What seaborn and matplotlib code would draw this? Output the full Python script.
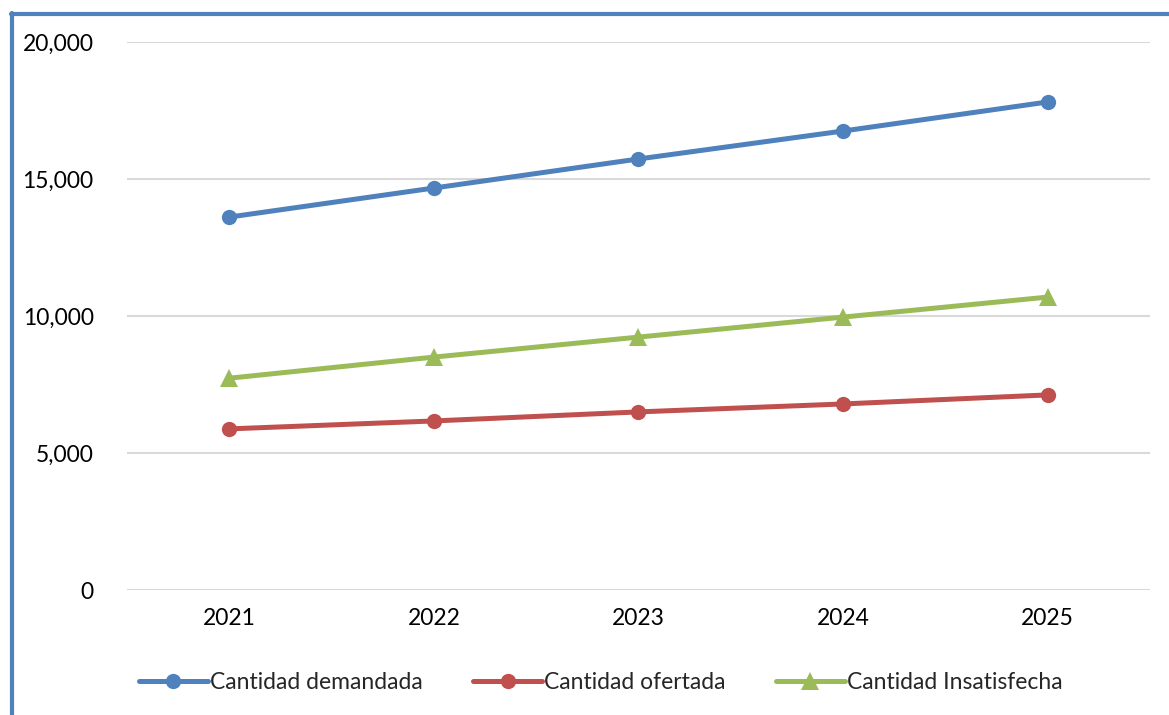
from matplotlib import pyplot as plt
from matplotlib.lines import Line2D
from matplotlib.ticker import FuncFormatter
import pandas as pd
import seaborn as sns

years = ['2021', '2022', '2023', '2024', '2025']
demandada = [13610, 14670, 15730, 16750, 17810]
ofertada = [5880, 6170, 6500, 6790, 7120]
insatisfecha = [7730, 8500, 9230, 9960, 10690]

series_names = ['Cantidad demandada', 'Cantidad ofertada', 'Cantidad Insatisfecha']
colors = ['#4F81BD', '#C0504D', '#9BBB59']
markers = ['o', 'o', '^']

sns.set_theme(style='white')
plt.rcParams['font.family'] = ['Lato', 'DejaVu Sans']

rows = []
for name, vals in zip(series_names, [demandada, ofertada, insatisfecha]):
    for i, v in enumerate(vals):
        rows.append({'pos': i, 'valor': v, 'serie': name})
df = pd.DataFrame(rows)

fig = plt.figure(figsize=(11.69, 7.15), dpi=100)
ax = fig.add_axes([0.1086, 0.1748, 0.8751, 0.7665])

for name, color, mk in zip(series_names, colors, markers):
    sub = df[df['serie'] == name]
    sns.lineplot(data=sub, x='pos', y='valor', ax=ax, color=color, linewidth=3.6,
                 marker=mk, markersize=11 if mk == 'o' else 13,
                 markeredgewidth=0, label=name)

ax.set_xlim(-0.5, len(years) - 0.5)
ax.set_ylim(0, 20000)
ax.set_yticks([0, 5000, 10000, 15000, 20000])
ax.yaxis.set_major_formatter(FuncFormatter(lambda v, p: f'{int(v):,}'))
ax.set_xticks(range(len(years)))
ax.set_xticklabels(years)
ax.grid(axis='y', color='#D9D9D9', linewidth=1.5)
ax.set_axisbelow(True)
for s in ax.spines.values():
    s.set_visible(False)
ax.tick_params(axis='both', length=0, labelsize=16.5, colors='black')
ax.tick_params(axis='y', pad=24)
ax.tick_params(axis='x', pad=13)
ax.set_xlabel('')
ax.set_ylabel('')

handles, labels = ax.get_legend_handles_labels()
ax.get_legend().remove()
fig.legend(handles, labels, loc='center', bbox_to_anchor=(0.514, 0.045), ncol=3,
           frameon=False, fontsize=16.5, handlelength=3.0, handletextpad=0.1,
           columnspacing=2.2)

# chart border (left and top only)
fig.add_artist(Line2D([0.0103, 0.0103], [0, 0.982], transform=fig.transFigure,
                      color='#4F81BD', linewidth=3))
fig.add_artist(Line2D([0.0090, 1.0], [0.981, 0.981], transform=fig.transFigure,
                      color='#4F81BD', linewidth=3))

fig.savefig('out.png', dpi=100)
